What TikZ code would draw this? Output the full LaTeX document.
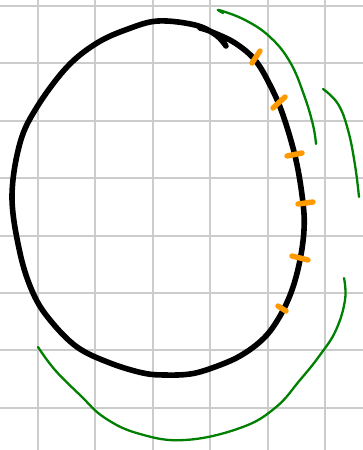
\documentclass[tikz,border=0pt]{standalone}
\definecolor{gridgray}{HTML}{CCCCCC}
\definecolor{tickorange}{HTML}{FF9900}
\definecolor{pengreen}{HTML}{008000}
\tikzset{
  gridline/.style={draw=gridgray, line width=2pt},
  blackink/.style={draw=black, line width=5.6pt, line cap=round, line join=round},
  orangeink/.style={draw=tickorange, line width=5.4pt, line cap=round},
  greenink/.style={draw=pengreen, line width=2.3pt, line cap=round, line join=round}
}
\begin{document}
\begin{tikzpicture}[x=1pt,y=-1pt]
\useasboundingbox (0,0) rectangle (363,450);
\fill[white] (0,0) rectangle (363,450);
% grid
\foreach \i in {0,...,5} { \draw[gridline] ({38+57.4*\i},0) -- ({38+57.4*\i},450); }
\foreach \j in {0,...,7} { \draw[gridline] (0,{6+57.4*\j}) -- (363,{6+57.4*\j}); }
% black loop
\draw[blackink] plot[smooth, tension=0.6] coordinates {
 (226,46) (216,35) (195,25) (158,21) (128,29) (97,43) (67,67) (37,107) (20,143)
 (12,197) (20,253) (33,293) (50,320) (77,347) (110,363) (143,373) (165,375)
 (190,374) (212,368) (240,356) (264,338) (280,316) (292,290) (300,260) (304,230)
 (303,203) (296,160) (283,115) (270,85) (255,60) (235,43) (212,32) (200,28)};
% orange ticks
\draw[orangeink] (252,63) -- (260,51);
\draw[orangeink] (273,108) -- (285,97);
\draw[orangeink] (287,156) -- (302,153);
\draw[orangeink] (298,204) -- (313,202);
\draw[orangeink] (292,256) -- (308,260);
\draw[orangeink] (278,306) -- (286,311);
% green strokes
\draw[greenink] plot[smooth, tension=0.7] coordinates {
 (223,13) (219,10) (245,20) (270,37) (290,62) (304,95) (313,125) (316,144)};
\draw[greenink] plot[smooth, tension=0.7] coordinates {
 (323,89) (338,104) (348,130) (355,165) (359,197)};
\draw[greenink] plot[smooth, tension=0.7] coordinates {
 (344,278) (345,300) (336,330) (320,355) (300,380) (275,408) (240,428) (185,440)
 (140,434) (105,418) (80,395) (55,370) (38,347)};
\end{tikzpicture}
\end{document}
